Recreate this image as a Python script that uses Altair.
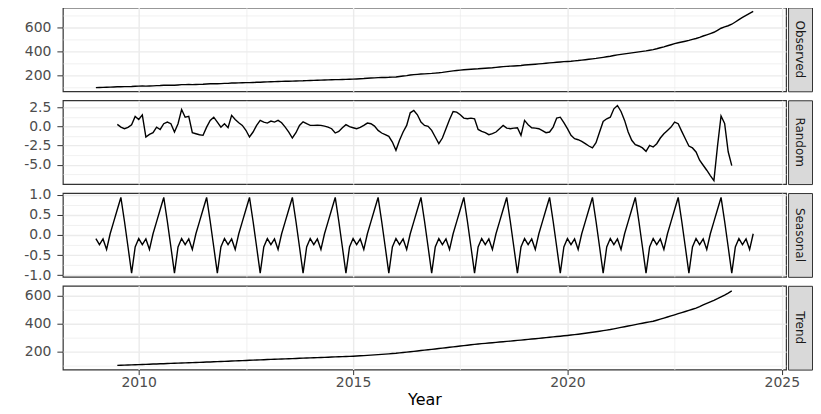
import altair as alt
import pandas as pd

# ---------------- data (monthly, Jan 2009 .. May 2024) ----------------
start_year = 2009
trend_offset = 6  # trend / random start in Jul 2009

observed = [
    95.0, 96.0, 97.0, 98.0, 99.5, 100.5,
    101.9, 102.8, 103.0, 103.6, 104.3, 107.0, 107.8, 109.2, 107.3, 108.4,
    109.9, 111.8, 112.7, 114.7, 115.2, 115.4, 114.5, 117.2, 120.1, 120.0,
    121.2, 119.8, 121.1, 122.3, 123.5, 125.8, 127.1, 127.9, 127.6, 128.6,
    130.3, 130.7, 133.5, 133.8, 134.8, 135.9, 136.6, 137.2, 138.3, 139.6,
    140.6, 142.2, 143.3, 144.5, 145.5, 146.4, 147.5, 148.2, 148.9, 149.4,
    150.5, 151.8, 152.6, 154.1, 155.0, 155.9, 157.1, 157.8, 159.1, 160.2,
    161.3, 162.1, 162.7, 163.5, 164.3, 165.7, 166.7, 168.0, 169.8, 171.4,
    173.7, 175.6, 177.3, 178.8, 179.7, 180.7, 181.8, 183.7, 184.8, 188.8,
    192.8, 196.2, 201.0, 204.4, 206.9, 209.2, 211.1, 213.2, 214.9, 217.5,
    219.7, 223.3, 227.6, 231.6, 236.0, 239.2, 242.1, 245.0, 247.2, 249.6,
    251.6, 253.6, 256.3, 258.2, 260.4, 262.6, 265.5, 268.5, 271.6, 273.9,
    275.6, 277.5, 279.3, 281.2, 285.7, 287.5, 289.7, 291.9, 294.7, 297.4,
    300.0, 303.0, 305.7, 308.8, 310.9, 313.5, 315.6, 317.6, 320.3, 322.9,
    326.6, 330.1, 333.6, 337.1, 340.9, 345.5, 350.2, 355.2, 359.6, 365.6,
    371.1, 375.1, 379.3, 383.1, 387.3, 392.1, 396.3, 400.4, 404.3, 410.2,
    415.2, 422.5, 430.9, 438.7, 447.5, 456.2, 465.2, 473.3, 479.7, 486.1,
    492.5, 500.9, 508.6, 518.4, 529.9, 539.9, 550.6, 561.3, 578.0, 595.3,
    606.7, 616.4, 628.9,
    648.0, 668.0, 686.0, 703.0, 720.0, 737.0,
]

trend = [
    101.0, 102.0, 103.0, 104.0, 105.0, 106.0, 107.0,
    107.9, 108.8, 109.8, 110.7, 111.6, 112.5, 113.4, 114.3, 115.3, 116.2, 117.1, 118.0,
    119.0, 120.0, 121.0, 122.0, 123.0, 124.0, 125.0, 126.0, 127.0, 128.0, 129.0, 130.0,
    131.1, 132.2, 133.3, 134.3, 135.4, 136.5, 137.6, 138.7, 139.8, 140.8, 141.9, 143.0,
    144.0, 145.0, 146.0, 147.0, 148.0, 149.0, 150.0, 151.0, 152.0, 153.0, 154.0, 155.0,
    156.0, 157.0, 158.0, 159.0, 160.0, 161.0, 162.0, 163.0, 164.0, 165.0, 166.0, 167.0,
    168.5, 170.0, 171.6, 173.2, 174.9, 176.6, 178.4, 180.2, 182.1, 184.0, 186.0, 188.0,
    190.8, 193.6, 196.4, 199.2, 202.0, 204.8, 207.7, 210.6, 213.5, 216.4, 219.2, 222.0,
    225.0, 228.0, 231.0, 234.0, 237.0, 240.0, 243.0, 245.9, 248.8, 251.6, 254.3, 257.0,
    259.3, 261.6, 263.9, 266.2, 268.5, 270.8, 273.2, 275.6, 278.0, 280.4, 282.7, 285.0,
    287.5, 290.0, 292.5, 295.0, 297.6, 300.2, 302.8, 305.4, 308.0, 310.6, 313.3, 316.0,
    319.0, 322.0, 325.0, 328.5, 332.0, 335.5, 339.0, 342.7, 346.5, 350.5, 354.5, 358.5,
    363.5, 368.5, 373.5, 378.5, 383.5, 388.5, 393.5, 398.5, 403.5, 408.5, 413.0, 418.0,
    425.0, 432.5, 440.0, 448.0, 456.0, 464.0, 472.0, 480.0, 488.0, 496.0, 504.0, 512.0,
    523.0, 535.0, 546.0, 557.0, 568.0, 580.0, 593.0, 606.0, 620.0, 635.0,
]

random_comp = [
    0.26, -0.10, -0.30, -0.13, 0.22, 1.30, 0.90, 1.50, -1.38, -1.03,
    -0.82, -0.10, -0.40, 0.35, 0.56, 0.35, -0.73, 0.35, 2.20, 1.20,
    1.30, -0.82, -0.95, -1.08, -1.16, -0.10, 0.78, 1.20, 0.56, -0.10,
    0.35, -0.17, 1.43, 0.90, 0.47, 0.13, -0.50, -1.38, -0.73, 0.13,
    0.78, 0.56, 0.43, 0.69, 0.56, 0.78, 0.47, -0.10, -0.73, -1.51,
    -0.82, 0.13, 0.60, 0.35, 0.13, 0.13, 0.17, 0.13, 0.04, -0.09,
    -0.30, -0.86, -0.65, -0.17, 0.22, -0.04, -0.17, -0.30, -0.13, 0.13,
    0.43, 0.35, 0.04, -0.52, -0.86, -1.08, -1.30, -2.03, -3.10, -1.81,
    -0.73, 0.13, 1.77, 2.07, 1.51, 0.56, 0.13, 0.00, -0.52, -1.38,
    -2.25, -1.51, -0.30, 0.91, 1.94, 1.86, 1.51, 1.08, 0.99, 1.08,
    0.99, -0.39, -0.65, -0.82, -1.08, -0.95, -0.73, -0.30, 0.13, -0.22,
    -0.30, -0.22, -0.17, -1.16, 0.78, 0.22, -0.17, -0.22, -0.30, -0.56,
    -0.82, -0.73, -0.09, 1.08, 1.20, 0.48, -0.30, -1.16, -1.60, -1.73,
    -1.94, -2.25, -2.55, -2.80, -2.11, -0.73, 0.65, 0.99, 1.20, 2.29,
    2.72, 1.94, 0.78, -0.73, -1.81, -2.37, -2.55, -2.80, -3.24, -2.46,
    -2.68, -2.25, -1.51, -0.95, -0.52, -0.09, 0.56, 0.35, -0.65, -1.60,
    -2.55, -2.80, -3.32, -4.40, -5.05, -5.70, -6.40, -7.05, -2.60, 1.35,
    0.40, -3.30, -5.10,
]

seasonal = [
    -0.09, -0.24, -0.10, -0.36, 0.03, 0.33, 0.63, 0.93, 0.34, -0.30, -0.95, -0.30,  # 2009
    -0.09, -0.24, -0.10, -0.36, 0.03, 0.33, 0.63, 0.93, 0.34, -0.30, -0.95, -0.30,  # 2010
    -0.09, -0.24, -0.10, -0.36, 0.03, 0.33, 0.63, 0.93, 0.34, -0.30, -0.95, -0.30,  # 2011
    -0.09, -0.24, -0.10, -0.36, 0.03, 0.33, 0.63, 0.93, 0.34, -0.30, -0.95, -0.30,  # 2012
    -0.09, -0.24, -0.10, -0.36, 0.03, 0.33, 0.63, 0.93, 0.34, -0.30, -0.95, -0.30,  # 2013
    -0.09, -0.24, -0.10, -0.36, 0.03, 0.33, 0.63, 0.93, 0.34, -0.30, -0.95, -0.30,  # 2014
    -0.09, -0.24, -0.10, -0.36, 0.03, 0.33, 0.63, 0.93, 0.34, -0.30, -0.95, -0.30,  # 2015
    -0.09, -0.24, -0.10, -0.36, 0.03, 0.33, 0.63, 0.93, 0.34, -0.30, -0.95, -0.30,  # 2016
    -0.09, -0.24, -0.10, -0.36, 0.03, 0.33, 0.63, 0.93, 0.34, -0.30, -0.95, -0.30,  # 2017
    -0.09, -0.24, -0.10, -0.36, 0.03, 0.33, 0.63, 0.93, 0.34, -0.30, -0.95, -0.30,  # 2018
    -0.09, -0.24, -0.10, -0.36, 0.03, 0.33, 0.63, 0.93, 0.34, -0.30, -0.95, -0.30,  # 2019
    -0.09, -0.24, -0.10, -0.36, 0.03, 0.33, 0.63, 0.93, 0.34, -0.30, -0.95, -0.30,  # 2020
    -0.09, -0.24, -0.10, -0.36, 0.03, 0.33, 0.63, 0.93, 0.34, -0.30, -0.95, -0.30,  # 2021
    -0.09, -0.24, -0.10, -0.36, 0.03, 0.33, 0.63, 0.93, 0.34, -0.30, -0.95, -0.30,  # 2022
    -0.09, -0.24, -0.10, -0.36, 0.03, 0.33, 0.63, 0.93, 0.34, -0.30, -0.95, -0.30,  # 2023
    -0.09, -0.24, -0.10, -0.36, 0.03,                                              # 2024
]

panel_names = ["Observed", "Random", "Seasonal", "Trend"]
x_ticks = [2010, 2012.5, 2015, 2017.5, 2020, 2022.5, 2025]

# ---------------- styling ----------------
W, H, STRIP_W = 725, 84, 24
LABEL_FONT = "DejaVu Sans"
GRID = "#EBEBEB"
X_DOMAIN = [2008.23, 2025.1]


def frame(vals, offset):
    return pd.DataFrame({
        "Year": [start_year + (i + offset) / 12 for i in range(len(vals))],
        "value": vals,
    })


def cond(test, a, b):
    return {"condition": {"test": test, "value": a}, "value": b}


def x_axis(bottom):
    major = "datum.value % 5 === 0"
    if bottom:
        return alt.Axis(
            values=x_ticks, title="Year",
            labelExpr="datum.value % 5 === 0 ? format(datum.value, 'd') : ''",
            tickOpacity=cond(major, 1, 0),
            gridWidth=cond(major, 1.4, 0.7),
            tickSize=5, labelPadding=1, titlePadding=2,
            labelFlush=False, labelOverlap=False, labelBound=False,
        )
    return alt.Axis(
        values=x_ticks, title=None, labels=False, ticks=False,
        gridWidth=cond(major, 1.4, 0.7),
    )


def y_axis(values, major_step, decimals):
    major = f"abs(datum.value % {major_step}) < 1e-6"
    if decimals:
        lab = "(datum.value < 0 ? '-' : '') + format(abs(datum.value), '.1f')"
    else:
        lab = "format(datum.value, 'd')"
    return alt.Axis(
        values=values, title=None,
        labelExpr=f"{major} ? {lab} : ''",
        tickOpacity=cond(major, 1, 0),
        gridWidth=cond(major, 1.4, 0.7),
        tickSize=6, labelPadding=6,
        minExtent=54, maxExtent=54,
        labelFlush=False, labelOverlap=False, labelBound=False,
    )


def panel(df, y_domain, y_values, step, decimals, bottom=False):
    return alt.Chart(df).mark_line(color="black", strokeWidth=1.4).encode(
        x=alt.X("Year:Q", scale=alt.Scale(domain=X_DOMAIN, nice=False, zero=False),
                axis=x_axis(bottom)),
        y=alt.Y("value:Q", scale=alt.Scale(domain=y_domain, nice=False, zero=False),
                axis=y_axis(y_values, step, decimals)),
    ).properties(width=W, height=H)


def strip(name):
    return alt.Chart(pd.DataFrame({"label": [name]})).mark_text(
        angle=90, font="DejaVu Sans", fontSize=12, color="#1A1A1A",
        align="center", baseline="middle",
    ).encode(
        text="label:N",
        x=alt.value(STRIP_W / 2),
        y=alt.value(H / 2),
    ).properties(
        width=STRIP_W, height=H,
        view=alt.ViewBackground(fill="#D9D9D9", stroke="#333333", strokeWidth=1),
    )


p_obs = panel(frame(observed, 0), [64, 770], [100, 200, 300, 400, 500, 600, 700], 200, False)
p_rnd = panel(frame(random_comp, trend_offset), [-7.5, 3.4],
              [-6.25, -5, -3.75, -2.5, -1.25, 0, 1.25, 2.5], 2.5, True)
p_sea = panel(frame(seasonal, 0), [-1.04, 1.04],
              [-1, -0.75, -0.5, -0.25, 0, 0.25, 0.5, 0.75, 1], 0.5, True)
p_trd = panel(frame(trend, trend_offset), [71, 672], [100, 200, 300, 400, 500, 600], 200, False,
              bottom=True)

cells = []
for p, n in zip([p_obs, p_rnd, p_sea, p_trd], panel_names):
    cells += [p, strip(n)]

chart = alt.concat(
    *cells, columns=2, spacing={"row": 9, "column": 2}, bounds="flush",
).properties(
    padding={"top": -2, "left": 0, "right": 0, "bottom": 0},
).configure_view(
    stroke="#333333", strokeWidth=1.2,
).configure_axis(
    domain=False,
    gridColor=GRID,
    tickColor="#333333", tickWidth=1,
    labelFont=LABEL_FONT, labelFontSize=14, labelColor="#4D4D4D",
    titleFont=LABEL_FONT, titleFontSize=16, titleColor="#000000",
    titleFontWeight="normal",
)

chart.save("out.html", embed_options={"renderer": "svg", "actions": False})
